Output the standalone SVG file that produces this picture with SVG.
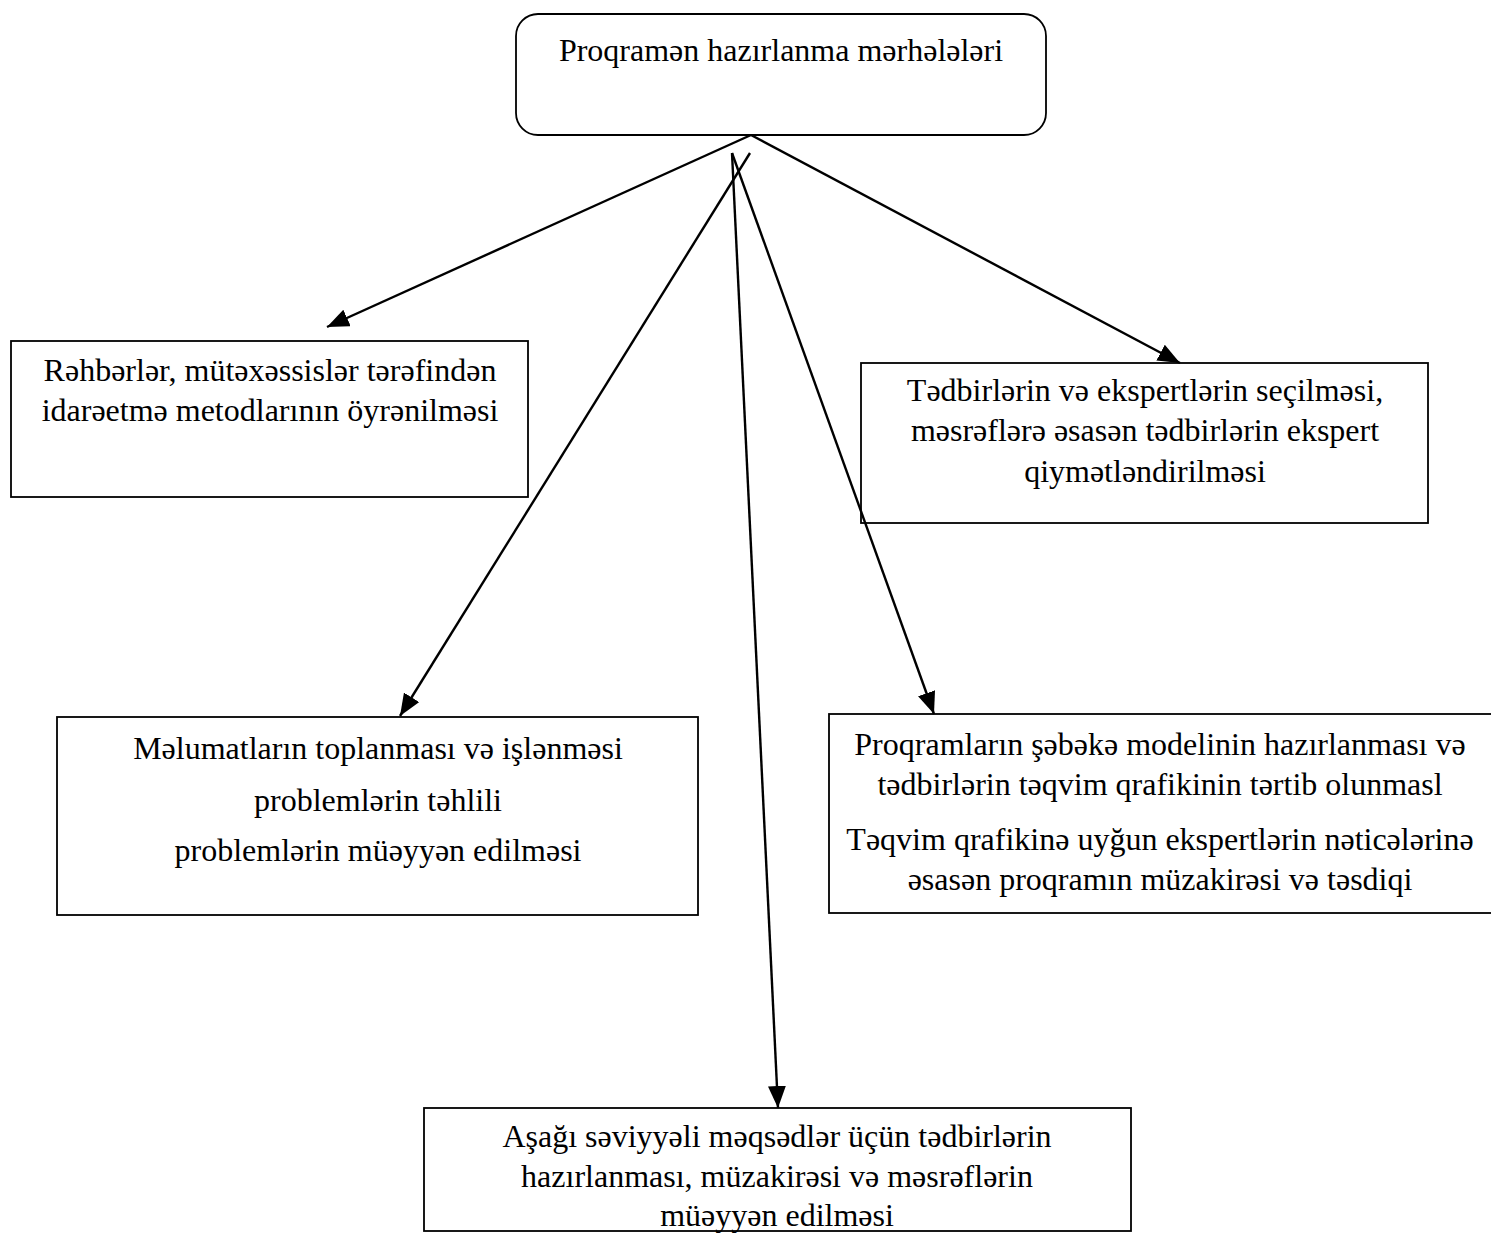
<svg xmlns="http://www.w3.org/2000/svg" width="1491" height="1256" viewBox="0 0 1491 1256">
<style>
.box{fill:#fff;stroke:#000;stroke-width:1.8}
.t{font-family:"Liberation Serif","DejaVu Serif",serif;font-size:32px;fill:#000;text-anchor:middle}
.c{stroke:#000;stroke-width:2.4;fill:none;marker-end:url(#ah)}
</style>
<defs>
<marker id="ah" viewBox="0 0 22 18" refX="22" refY="9" markerWidth="22" markerHeight="18" orient="auto" markerUnits="userSpaceOnUse">
<path d="M0,0 L22,9 L0,18 z" fill="#000"/>
</marker>
</defs>
<rect width="1491" height="1256" fill="#fff"/>
<g id="n-top">
<rect class="box" x="516" y="14" width="530" height="121" rx="22" ry="22"/>
<text class="t" x="781" y="61">Proqramən hazırlanma mərhələləri</text>
</g>
<g id="n-rehberler">
<rect class="box" x="11" y="341" width="517" height="156"/>
<text class="t" x="270" y="381">Rəhbərlər, mütəxəssislər tərəfindən</text>
<text class="t" x="270" y="421">idarəetmə metodlarının öyrənilməsi</text>
</g>
<g id="n-tedbirler">
<rect class="box" x="861" y="363" width="567" height="160"/>
<text class="t" x="1145" y="401">Tədbirlərin və ekspertlərin seçilməsi,</text>
<text class="t" x="1145" y="441">məsrəflərə əsasən tədbirlərin ekspert</text>
<text class="t" x="1145" y="482">qiymətləndirilməsi</text>
</g>
<g id="n-melumat">
<rect class="box" x="57" y="717" width="641" height="198"/>
<text class="t" x="378" y="759">Məlumatların toplanması və işlənməsi</text>
<text class="t" x="378" y="811">problemlərin təhlili</text>
<text class="t" x="378" y="861">problemlərin müəyyən edilməsi</text>
</g>
<g id="n-proqram">
<rect class="box" x="829" y="714" width="700" height="199"/>
<text class="t" x="1160" y="755">Proqramların şəbəkə modelinin hazırlanması və</text>
<text class="t" x="1160" y="795">tədbirlərin təqvim qrafikinin tərtib olunmasl</text>
<text class="t" x="1160" y="850">Təqvim qrafikinə uyğun ekspertlərin nəticələrinə</text>
<text class="t" x="1160" y="890">əsasən proqramın müzakirəsi və təsdiqi</text>
</g>
<g id="n-asagi">
<rect class="box" x="424" y="1108" width="707" height="123"/>
<text class="t" x="777" y="1147">Aşağı səviyyəli məqsədlər üçün tədbirlərin</text>
<text class="t" x="777" y="1187">hazırlanması, müzakirəsi və məsrəflərin</text>
<text class="t" x="777" y="1226">müəyyən edilməsi</text>
</g>
<g id="connectors">
<line class="c" x1="751" y1="135" x2="327" y2="327"/>
<line class="c" x1="751" y1="135" x2="1180" y2="363"/>
<line class="c" x1="750" y1="153" x2="400" y2="716"/>
<line class="c" x1="732" y1="153" x2="934" y2="714"/>
<line class="c" x1="732" y1="153" x2="778" y2="1108"/>
</g>
</svg>
